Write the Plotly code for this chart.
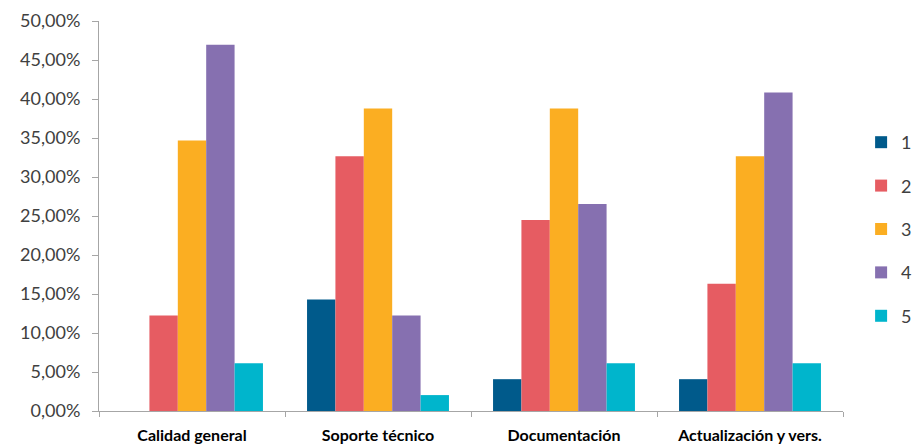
import plotly.graph_objects as go

categories = ["Calidad general", "Soporte técnico", "Documentación", "Actualización y vers."]
series_names = ["1", "2", "3", "4", "5"]
values_1 = [0.0, 0.1429, 0.0408, 0.0408]
values_2 = [0.1224, 0.3265, 0.2449, 0.1633]
values_3 = [0.3469, 0.3878, 0.3878, 0.3265]
values_4 = [0.4694, 0.1224, 0.2653, 0.4082]
values_5 = [0.0612, 0.0204, 0.0612, 0.0612]
colors = ["#005A8B", "#E65C62", "#FBAE22", "#8670B0", "#00B5CC"]

fig = go.Figure()
for name, vals, col in zip(series_names, [values_1, values_2, values_3, values_4, values_5], colors):
    fig.add_trace(go.Bar(
        x=categories, y=vals, name=name, legendgroup=name,
        marker=dict(color=col, line=dict(width=0)),
    ))

axis_col = "#A6A6A6"
fig.update_layout(
    width=919, height=446,
    margin=dict(l=99, r=76, t=21, b=35, autoexpand=False),
    paper_bgcolor="white", plot_bgcolor="white",
    separators=",.",
    barmode="group", bargap=0.237, bargroupgap=0,
    font=dict(family="Lato", color="#404040"),
    legend=dict(
        xref="container", yref="container",
        x=0.937, y=0.722, xanchor="left", yanchor="top",
        font=dict(size=18, color="#404040"),
        tracegroupgap=17, itemwidth=30,
    ),
    showlegend=True,
)
fig.update_yaxes(
    range=[0, 0.5], dtick=0.05, tickformat=".2%",
    showgrid=False, zeroline=False, automargin=False,
    showline=True, linecolor=axis_col, linewidth=1,
    ticks="outside", ticklen=6, tickcolor=axis_col,
    ticklabelstandoff=8,
    tickfont=dict(size=18, color="#404040"),
)
fig.update_xaxes(
    showgrid=False, showline=True, linecolor=axis_col, linewidth=1,
    automargin=False,
    ticks="outside", ticklen=5, tickcolor=axis_col, tickson="boundaries",
    ticklabelstandoff=10,
    tickfont=dict(size=16, color="#000000", weight="bold"),
)

fig.write_html("out.html")
